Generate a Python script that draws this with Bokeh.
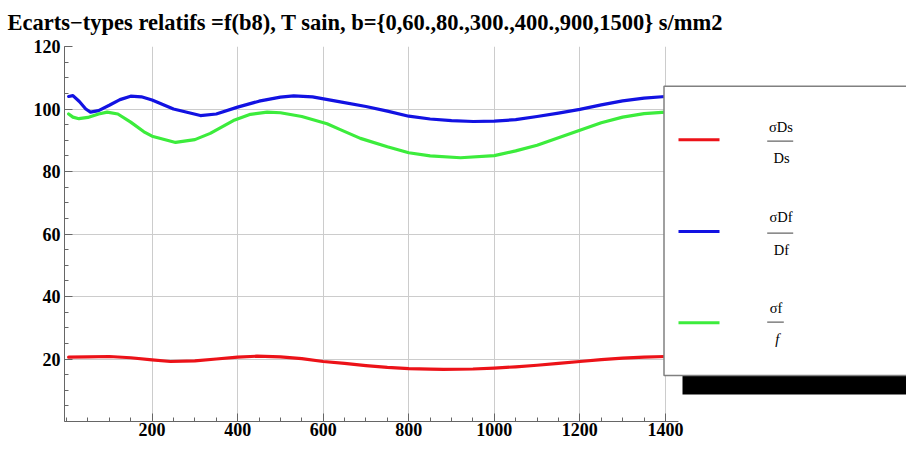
from bokeh.plotting import figure
from bokeh.models import FixedTicker
from bokeh.embed import file_html
from bokeh.resources import INLINE
from bokeh.core.properties import value

# ---------------- data ----------------
TITLE = "Ecarts\u2212types relatifs =f(b8), T sain, b={0,60.,80.,300.,400.,900,1500} s/mm2"

x_ticks = [200, 400, 600, 800, 1000, 1200, 1400]
y_ticks = [20, 40, 60, 80, 100, 120]

# sigma Ds / Ds  (red)
b_ds = [5, 50, 100, 150, 200, 243, 300, 350, 400, 445, 500, 550, 600, 650, 700,
        750, 800, 850, 881, 950, 1000, 1050, 1100, 1150, 1200, 1250, 1300, 1350, 1400]
ds = [20.6, 20.7, 20.8, 20.4, 19.7, 19.2, 19.4, 20.0, 20.6, 20.9, 20.7, 20.1, 19.2, 18.6, 17.9,
      17.3, 16.9, 16.75, 16.7, 16.8, 17.1, 17.5, 18.0, 18.6, 19.2, 19.8, 20.3, 20.6, 20.8]

# sigma Df / Df  (blue)
b_df = [5, 15, 30, 45, 56, 75, 100, 125, 150, 175, 200, 250, 313, 350, 400, 450, 500, 531,
        575, 640, 700, 750, 800, 850, 900, 951, 1000, 1050, 1100, 1150, 1200, 1250, 1300,
        1350, 1400]
df = [104.0, 104.3, 102.4, 100.0, 99.0, 99.5, 101.2, 103.0, 104.1, 103.9, 102.9, 100.0, 97.9,
      98.4, 100.6, 102.5, 103.8, 104.2, 103.9, 102.3, 100.8, 99.3, 97.7, 96.8, 96.3, 96.0,
      96.1, 96.6, 97.6, 98.7, 99.9, 101.3, 102.6, 103.5, 104.0]

# sigma f / f  (green)
b_f = [5, 15, 29, 50, 75, 95, 120, 150, 181, 200, 255, 300, 336, 390, 430, 469, 500, 550,
       609, 640, 687, 750, 800, 850, 921, 1000, 1050, 1100, 1150, 1200, 1250, 1300, 1350, 1400]
f = [98.4, 97.4, 96.9, 97.3, 98.4, 99.0, 98.4, 95.8, 92.7, 91.3, 89.3, 90.2, 92.2, 96.3, 98.3,
     99.0, 98.8, 97.6, 95.3, 93.4, 90.6, 87.9, 86.0, 85.0, 84.4, 85.1, 86.6, 88.4, 90.8, 93.2,
     95.6, 97.4, 98.5, 99.0]

series_colors = ["#ec1218", "#1212e2", "#3cec3c"]
num_labels = ["\u03c3Ds", "\u03c3Df", "\u03c3f"]
den_labels = ["Ds", "Df", "f"]

# ---------------- layout (canvas pixels) ----------------
W, H = 906, 442
LEFT, TOP, BOTTOM = 64, 46, 21
X0, X1 = -4.7, 1963.5
Y0, Y1 = 0, 120
X_AXIS_END = 1430
FW = W - LEFT
FH = H - TOP - BOTTOM


def dx(cx):
    return X0 + (cx - LEFT) / FW * (X1 - X0)


def dy(cy):
    return Y1 - (cy - TOP) / FH * (Y1 - Y0)


p = figure(width=W, height=H, output_backend="svg", toolbar_location=None,
           x_range=(X0, X1), y_range=(Y0, Y1),
           min_border_left=LEFT, min_border_right=0,
           min_border_top=TOP, min_border_bottom=BOTTOM)
p.outline_line_color = None
p.background_fill_color = "white"
p.border_fill_color = "white"

p.title.text = TITLE
p.title.text_font = "Liberation Serif"
p.title.text_font_style = "bold"
p.title.text_font_size = "22.5px"
p.title.align = "left"
p.title.vertical_align = "top"
p.title.offset = -57
p.title.standoff = 19
p.title.text_color = "black"

# axes
for ax in (p.xaxis[0], p.yaxis[0]):
    ax.axis_line_color = "#666666"
    ax.major_tick_line_color = "#666666"
    ax.minor_tick_line_color = "#666666"
    ax.major_tick_in = 8
    ax.major_tick_out = 0
    ax.minor_tick_in = 4
    ax.minor_tick_out = 0
    ax.major_label_text_font = "Liberation Serif"
    ax.major_label_text_font_style = "bold"
    ax.major_label_text_font_size = "18px"
    ax.major_label_text_color = "black"

p.xaxis[0].ticker = FixedTicker(ticks=x_ticks, minor_ticks=list(range(0, 1401, 50)))
p.xaxis[0].bounds = (X0, X_AXIS_END)
p.xaxis[0].major_label_standoff = 1
p.yaxis[0].ticker = FixedTicker(ticks=y_ticks, minor_ticks=list(range(0, 121, 5)))
p.yaxis[0].bounds = (Y0, Y1)
p.yaxis[0].major_label_standoff = 4

# grids
p.xgrid[0].ticker = FixedTicker(ticks=x_ticks)
p.ygrid[0].ticker = FixedTicker(ticks=y_ticks)
for g in (p.xgrid[0], p.ygrid[0]):
    g.grid_line_color = "#cccccc"
    g.grid_line_width = 1
try:
    p.ygrid[0].cross_bounds = (X0, X_AXIS_END)
except Exception:
    p.ygrid[0].ticker = FixedTicker(ticks=y_ticks[:-1])

# curves
for xs, ys, c in ((b_ds, ds, series_colors[0]), (b_df, df, series_colors[1]), (b_f, f, series_colors[2])):
    p.line(xs, ys, line_color=c, line_width=3.2, line_join="round", line_cap="round")

# legend frame (shadow + box)
p.quad(left=[dx(682)], right=[dx(940)], top=[dy(370)], bottom=[dy(394)],
       fill_color="black", line_color=None)
p.quad(left=[dx(663.5)], right=[dx(940)], top=[dy(85.7)], bottom=[dy(375)],
       fill_color="white", line_color="#808080", line_width=1.5)

row_line_y = [139.3, 231.0, 322.3]
num_x = [780.5, 780.5, 775.5]
num_y = [126.0, 216.7, 307.7]
bar_l = [766.7, 766.7, 766.7]
bar_r = [792.7, 792.7, 783.3]
bar_y = [140.7, 232.7, 321.7]
den_x = [781.0, 781.0, 776.7]
den_y = [157.0, 249.0, 338.3]

p.segment(x0=[dx(678)] * 3, x1=[dx(719)] * 3,
          y0=[dy(v) for v in row_line_y], y1=[dy(v) for v in row_line_y],
          line_color=series_colors, line_width=3)
p.segment(x0=[dx(v) for v in bar_l], x1=[dx(v) for v in bar_r],
          y0=[dy(v) for v in bar_y], y1=[dy(v) for v in bar_y],
          line_color="#666666", line_width=1.2)
p.text(x=[dx(v) for v in num_x], y=[dy(v) for v in num_y], text=num_labels,
       text_font=value("Liberation Serif"), text_font_size="14.5px",
       text_align="center", text_baseline="middle", text_color="black")
p.text(x=[dx(v) for v in den_x[:2]], y=[dy(v) for v in den_y[:2]], text=den_labels[:2],
       text_font=value("Liberation Serif"), text_font_size="14.5px",
       text_align="center", text_baseline="middle", text_color="black")
p.text(x=[dx(den_x[2])], y=[dy(den_y[2])], text=den_labels[2:],
       text_font=value("Liberation Serif"), text_font_size="14.5px", text_font_style="italic",
       text_align="center", text_baseline="middle", text_color="black")

open("out.html", "w").write(file_html(p, INLINE))
